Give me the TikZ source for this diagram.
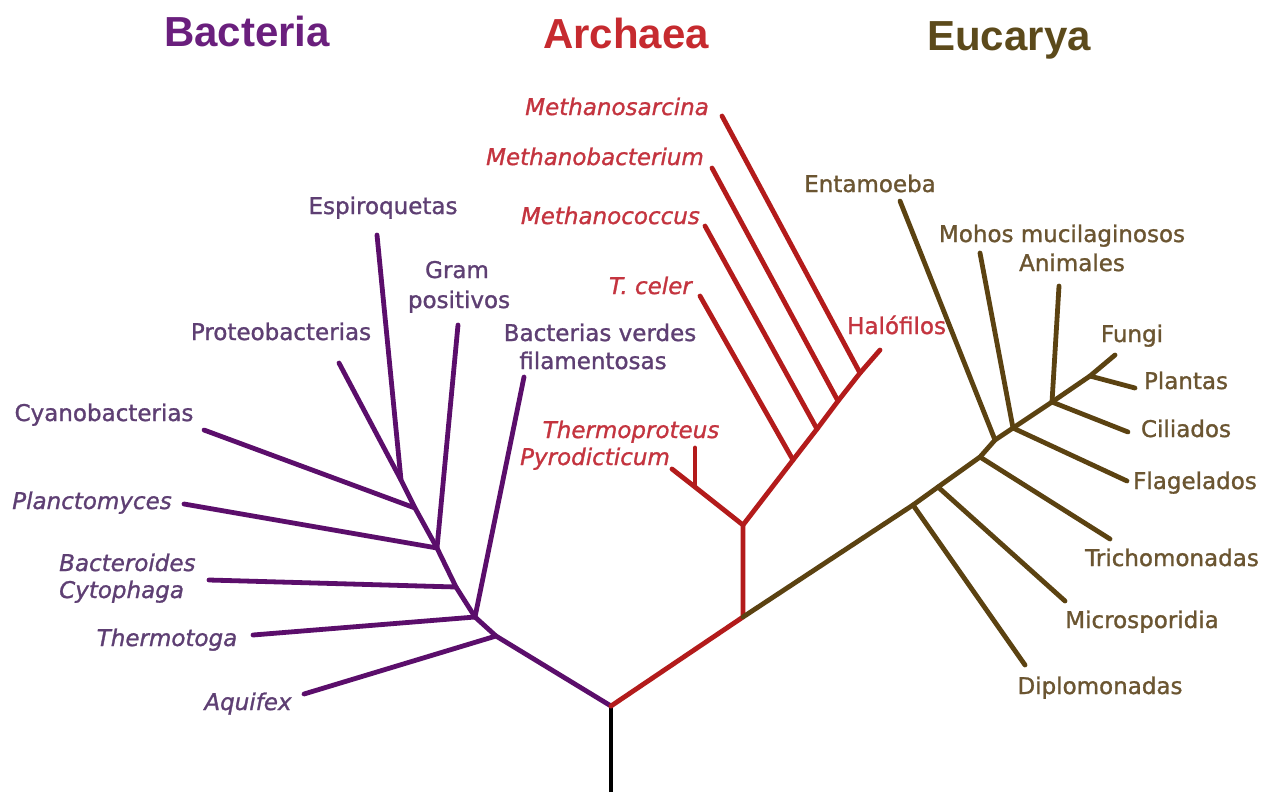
\documentclass[tikz,border=0pt]{standalone}
\usepackage{fontspec}
\setmainfont{DejaVu Sans}[FakeBold=1]
\newfontfamily\lblfont{DejaVu Sans}[FakeBold=1.2]
\newfontfamily\titlefont{Liberation Sans}
\definecolor{bacL}{HTML}{5B0E6B}
\definecolor{bacT}{HTML}{5E3F73}
\definecolor{bacH}{HTML}{6A1F7D}
\definecolor{arcL}{HTML}{B31B1B}
\definecolor{arcT}{HTML}{C4343F}
\definecolor{arcH}{HTML}{C62A2F}
\definecolor{eucL}{HTML}{5B4211}
\definecolor{eucT}{HTML}{6B5531}
\definecolor{eucH}{HTML}{5C4A1B}
\begin{document}
\begin{tikzpicture}[x=1pt,y=-1pt,
  branch/.style={line width=4.8pt,line cap=round,line join=round},
  bac/.style={branch,draw=bacL},
  arc/.style={branch,draw=arcL},
  euc/.style={branch,draw=eucL},
  rootline/.style={branch,draw=black,line cap=butt},
  lbl/.style={font=\lblfont\fontsize{23}{27}\selectfont,inner sep=0pt,anchor=base},
  itl/.style={lbl,font=\lblfont\fontsize{23}{27}\selectfont\itshape},
  ttl/.style={font=\titlefont\bfseries\fontsize{42}{48}\selectfont,inner sep=0pt,anchor=base}]
\useasboundingbox (0,0) rectangle (1272,796);
\fill[white] (0,0) rectangle (1272,796);

% titles
\node[ttl,text=bacH] (tB) at (247,46) {Bacteria};
\node[ttl,text=arcH] (tA) at (626,48) {Archaea};
\node[ttl,text=eucH] (tE) at (1009,50) {Eucarya};

% root
\coordinate (R) at (611,706);
\coordinate (Rb) at (611,792);
\draw[rootline] (Rb) -- (R);

% ---------- Bacteria ----------
\coordinate (b1) at (496,636);
\coordinate (b2) at (475,617);
\coordinate (b3) at (456,587);
\coordinate (b4) at (437,548);
\coordinate (b5) at (415,508);
\coordinate (b6) at (401,480);
\coordinate (aq) at (304,694);
\coordinate (th) at (253,635);
\coordinate (bv) at (524,377);
\coordinate (bd) at (209,580);
\coordinate (pl) at (184,504);
\coordinate (gp) at (458,325);
\coordinate (cy) at (204,430);
\coordinate (es) at (377,235);
\coordinate (pr) at (339,363);
\draw[bac] (R) -- (b1) -- (b2) -- (b3) -- (b4) -- (b5) -- (b6) -- (es);
\draw[bac] (b1) -- (aq);
\draw[bac] (b2) -- (th);
\draw[bac] (b2) -- (bv);
\draw[bac] (b3) -- (bd);
\draw[bac] (b4) -- (pl);
\draw[bac] (b4) -- (gp);
\draw[bac] (b5) -- (cy);
\draw[bac] (b6) -- (pr);

\node[lbl,text=bacT] (lEs) at (383,214) {Espiroquetas};
\node[lbl,text=bacT] (lGr) at (457,278) {Gram};
\node[lbl,text=bacT] (lPo) at (459,308) {positivos};
\node[lbl,text=bacT] (lPr) at (281,340) {Proteobacterias};
\node[lbl,text=bacT] (lBv) at (600,341) {Bacterias verdes};
\node[lbl,text=bacT] (lFi) at (593,369) {filamentosas};
\node[lbl,text=bacT] (lCy) at (104,421) {Cyanobacterias};
\node[itl,text=bacT] (lPl) at (92,509) {Planctomyces};
\node[itl,text=bacT,anchor=base west] (lBd) at (59,571) {Bacteroides};
\node[itl,text=bacT,anchor=base west] (lCt) at (59,598) {Cytophaga};
\node[itl,text=bacT] (lTh) at (167,646) {Thermotoga};
\node[itl,text=bacT] (lAq) at (248,710) {Aquifex};

% ---------- Archaea ----------
\coordinate (a0) at (743,617);
\coordinate (a1) at (743,525);
\coordinate (ay) at (695,487);
\coordinate (ayl) at (672,469);
\coordinate (ayu) at (695,448);
\coordinate (j1) at (793,460);
\coordinate (j2) at (817,429);
\coordinate (j3) at (838,401);
\coordinate (j4) at (860,373);
\coordinate (ha) at (880,350);
\coordinate (tc) at (700,296);
\coordinate (mc) at (705,226);
\coordinate (mb) at (712,168);
\coordinate (ms) at (722,116);
\draw[arc] (R) -- (a0) -- (a1) -- (ay) -- (ayl);
\draw[arc] (ay) -- (ayu);
\draw[arc] (a1) -- (j1) -- (j2) -- (j3) -- (j4) -- (ha);
\draw[arc] (j1) -- (tc);
\draw[arc] (j2) -- (mc);
\draw[arc] (j3) -- (mb);
\draw[arc] (j4) -- (ms);

\node[itl,text=arcT,anchor=base east] (lMs) at (709,115) {Methanosarcina};
\node[itl,text=arcT,anchor=base east] (lMb) at (704,165) {Methanobacterium};
\node[itl,text=arcT,anchor=base east] (lMc) at (700,224) {Methanococcus};
\node[itl,text=arcT,anchor=base east] (lTc) at (692,294) {T. celer};
\node[lbl,text=arcT,anchor=base west] (lHa) at (847,334) {Halófilos};
\node[itl,text=arcT] (lTp) at (631,438) {Thermoproteus};
\node[itl,text=arcT] (lPy) at (595,465) {Pyrodicticum};

% ---------- Eucarya ----------
\coordinate (e1) at (913,505);
\coordinate (e2) at (938,487);
\coordinate (e3) at (980,457);
\coordinate (e4) at (995,440);
\coordinate (e5) at (1013,428);
\coordinate (e6) at (1052,402);
\coordinate (e7) at (1090,376);
\coordinate (fu) at (1115,355);
\coordinate (dp) at (1025,665);
\coordinate (mi) at (1065,601);
\coordinate (tr) at (1110,539);
\coordinate (en) at (900,201);
\coordinate (mo) at (980,253);
\coordinate (fl) at (1127,481);
\coordinate (an) at (1059,286);
\coordinate (ci) at (1128,432);
\coordinate (pn) at (1135,388);
\draw[euc] (a0) -- (e1) -- (e2) -- (e3) -- (e4) -- (e5) -- (e6) -- (e7) -- (fu);
\draw[euc] (e1) -- (dp);
\draw[euc] (e2) -- (mi);
\draw[euc] (e3) -- (tr);
\draw[euc] (e4) -- (en);
\draw[euc] (e5) -- (mo);
\draw[euc] (e5) -- (fl);
\draw[euc] (e6) -- (an);
\draw[euc] (e6) -- (ci);
\draw[euc] (e7) -- (pn);

\node[lbl,text=eucT] (lEn) at (870,192) {Entamoeba};
\node[lbl,text=eucT] (lMo) at (1062,242) {Mohos mucilaginosos};
\node[lbl,text=eucT] (lAn) at (1072,271) {Animales};
\node[lbl,text=eucT] (lFu) at (1132,342) {Fungi};
\node[lbl,text=eucT] (lPn) at (1186,389) {Plantas};
\node[lbl,text=eucT] (lCi) at (1186,437) {Ciliados};
\node[lbl,text=eucT] (lFl) at (1195,489) {Flagelados};
\node[lbl,text=eucT] (lTr) at (1172,566) {Trichomonadas};
\node[lbl,text=eucT] (lMi) at (1142,628) {Microsporidia};
\node[lbl,text=eucT] (lDp) at (1100,694) {Diplomonadas};
\end{tikzpicture}
\end{document}
